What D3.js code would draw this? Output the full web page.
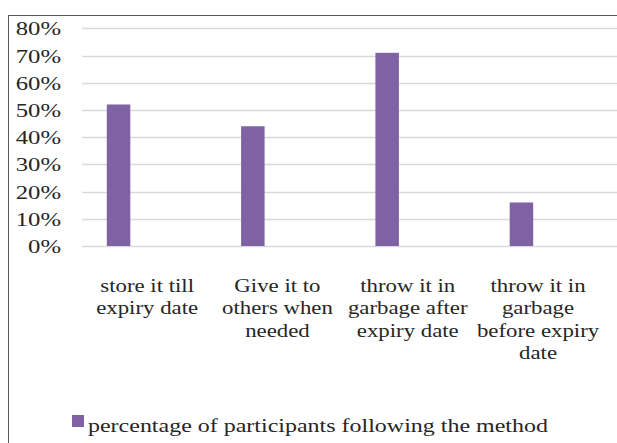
<!DOCTYPE html>
<html>
<head>
<meta charset="utf-8">
<script src="https://cdn.jsdelivr.net/npm/d3@7"></script>
<style>
  html, body { margin: 0; padding: 0; background: #fff; }
  svg { display: block; }
</style>
</head>
<body>
<svg id="chart" width="617" height="443"></svg>
<script>
// chart values
var categories = [
    "store it till\nexpiry date",
    "Give it to\nothers when\nneeded",
    "throw it in\ngarbage after\nexpiry date",
    "throw it in\ngarbage\nbefore expiry\ndate"
];
var values = [0.52, 0.44, 0.71, 0.16];
var seriesName = "percentage of participants following the method";
var yTicks = [0, 0.1, 0.2, 0.3, 0.4, 0.5, 0.6, 0.7, 0.8];

var svg = d3.select('#chart');
var fontFamily = 'Liberation Serif, Times New Roman, serif',
    fontSize = 19.5,
    lineHeight = 22.4,
    textColor = "#262626",
    barColor = "#7f62a4",
    gridColor = "#d9d9d9";
// the picture is a little wider than tall, so text is stretched sideways
var stretchTick = 1.27, stretchLabel = 1.17, stretchLegend = 1.23;

// outer frame, runs off the right and bottom
svg.append('rect')
    .attr('x', 8.5).attr('y', 15.5)
    .attr('width', 700).attr('height', 600)
    .attr('fill', 'none')
    .attr('stroke', '#595959')
    .attr('stroke-width', 1);

var y = d3.scaleLinear().domain([0, 0.8]).range([246, 28.3]);

// plot area (category labels, gridlines)
var xAxis = d3.scaleBand().domain(categories).range([82, 603.2]);
// bars sit a little left of their labels in the picture
var xBars = d3.scaleBand().domain(categories).range([51.4, 588.6])
    .paddingInner(0.825).paddingOuter(0.4125);

// gridlines
svg.append('g').selectAll('.grid').data(yTicks).enter()
    .append('line')
    .attr('class', 'grid')
    .attr('x1', 82)
    .attr('x2', 617)
    .attr('y1', function(d) { return Math.round(y(d)) + 0.5; })
    .attr('y2', function(d) { return Math.round(y(d)) + 0.5; })
    .attr('stroke', gridColor)
    .attr('stroke-width', 1.3);

// y tick labels
svg.append('g').selectAll('.ytick').data(yTicks).enter()
    .append('text')
    .attr('class', 'ytick')
    .attr('transform', function(d) {
        return 'translate(61,' + (y(d) + 7) + ') scale(' + stretchTick + ',1)';
    })
    .attr('text-anchor', 'end')
    .attr('font-family', fontFamily)
    .attr('font-size', fontSize + 'px')
    .attr('fill', textColor)
    .text(d3.format('.0%'));

// bars
svg.append('g').selectAll('.bar').data(values).enter()
    .append('rect')
    .attr('class', 'bar')
    .attr('x', function(d, i) { return xBars(categories[i]); })
    .attr('width', xBars.bandwidth())
    .attr('y', function(d) { return y(d); })
    .attr('height', function(d) { return y(0) - y(d); })
    .attr('fill', barColor);

// category labels
svg.append('g').selectAll('.xlabel').data(categories).enter()
    .append('text')
    .attr('class', 'xlabel')
    .attr('transform', function(d) {
        return 'translate(' + (xAxis(d) + xAxis.bandwidth() / 2) + ',292) scale(' + stretchLabel + ',1)';
    })
    .attr('text-anchor', 'middle')
    .attr('font-family', fontFamily)
    .attr('font-size', fontSize + 'px')
    .attr('fill', textColor)
    .each(function(d) {
        var _this = d3.select(this);
        _this.selectAll('tspan').data(d.split('\n')).enter()
            .append('tspan')
            .attr('x', 0)
            .attr('y', function(line, i) { return i * lineHeight; })
            .text(function(line) { return line; });
    });

// legend
var legend = svg.append('g').attr('class', 'legend');
legend.append('rect')
    .attr('x', 72).attr('y', 415)
    .attr('width', 12).attr('height', 12)
    .attr('fill', barColor);
legend.append('text')
    .attr('transform', 'translate(88,432) scale(' + stretchLegend + ',1)')
    .attr('font-family', fontFamily)
    .attr('font-size', fontSize + 'px')
    .attr('fill', textColor)
    .text(seriesName);
</script>
</body>
</html>
